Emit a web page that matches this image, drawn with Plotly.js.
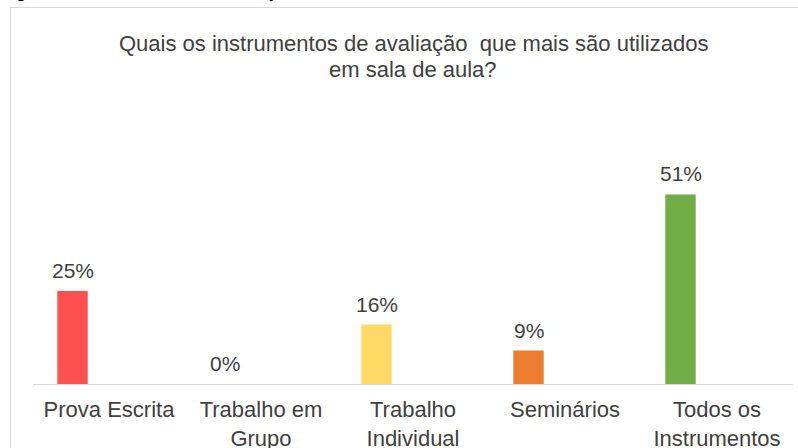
<!DOCTYPE html>
<html>
<head>
<meta charset="utf-8">
<script src="https://cdn.plot.ly/plotly-3.0.1.min.js"></script>
<style>
  html, body { margin: 0; padding: 0; background: #ffffff; }
  #wrap { position: relative; width: 798px; height: 448px; overflow: hidden; }
  #frame { position: absolute; left: 10px; top: 7px; width: 800px; height: 460px;
           border-left: 1px solid #d9d9d9; border-top: 1px solid #d9d9d9; pointer-events: none; }
  #chart { position: absolute; left: 0; top: 0; width: 798px; height: 448px; }
</style>
</head>
<body>
<div id="wrap">
  <div id="chart"></div>
  <div id="frame"></div>
</div>
<script>
// ---- data ----
const categories = ["Prova Escrita", "Trabalho em<br>Grupo", "Trabalho<br>Individual", "Seminários", "Todos os<br>Instrumentos"];
const values = [25, 0, 16, 9, 51];
const valueLabels = ["25%", "0%", "16%", "9%", "51%"];
const barColors = ["#FF5050", "#FFD966", "#FFD966", "#ED7D31", "#70AD47"];
const titleLines = ["Quais os instrumentos de avaliação  que mais são utilizados", "em sala de aula?"];
const caption = "Figura 4 - Instrumentos de avaliação";

const textColor = "#404040";
const fontFam = "Liberation Sans, Arial, sans-serif";
const barOffset = -0.34, barWidth = 0.2;

const idx = categories.map((_, i) => i);

const trace = {
  type: "bar",
  x: idx,
  y: values,
  width: barWidth,
  offset: barOffset,
  marker: { color: barColors, line: { width: 0 } },
  hoverinfo: "skip"
};

const annotations = values.map((v, i) => ({
  x: i + barOffset + barWidth / 2,
  y: v,
  xref: "x", yref: "y",
  text: valueLabels[i],
  showarrow: false,
  yanchor: "bottom",
  yshift: 7,
  font: { family: fontFam, size: 21, color: textColor }
}));

annotations.push({
  xref: "paper", yref: "paper",
  x: -0.045, y: 1.0,
  xanchor: "left", yanchor: "bottom",
  yshift: 157,
  text: "<b>" + caption + "</b>",
  showarrow: false,
  font: { family: fontFam, size: 17, color: "#000000" }
});

// chart title: two centred lines
const titleShifts = [118, 92];
titleLines.forEach((t, k) => {
  annotations.push({
    xref: "paper", yref: "paper",
    x: 0.5, y: 1.0,
    xanchor: "center", yanchor: "middle",
    yshift: titleShifts[k],
    text: t,
    showarrow: false,
    font: { family: fontFam, size: 22, color: textColor }
  });
});

const layout = {
  width: 798, height: 448,
  margin: { l: 33, r: 5, t: 161, b: 64 },
  paper_bgcolor: "#ffffff",
  plot_bgcolor: "#ffffff",
  showlegend: false,
  xaxis: {
    type: "linear",
    range: [-0.5, 4.5],
    tickmode: "array",
    tickvals: idx,
    ticktext: categories,
    showline: true, linecolor: "#d9d9d9", linewidth: 1,
    showgrid: false, zeroline: false,
    ticks: "", ticklen: 0,
    ticklabelstandoff: 6,
    tickfont: { family: fontFam, size: 22, color: textColor },
    fixedrange: true
  },
  yaxis: {
    range: [0, 60],
    visible: false,
    showgrid: false, zeroline: false,
    fixedrange: true
  },
  annotations: annotations
};

Plotly.newPlot("chart", [trace], layout, { displayModeBar: false, staticPlot: true });
</script>
</body>
</html>
